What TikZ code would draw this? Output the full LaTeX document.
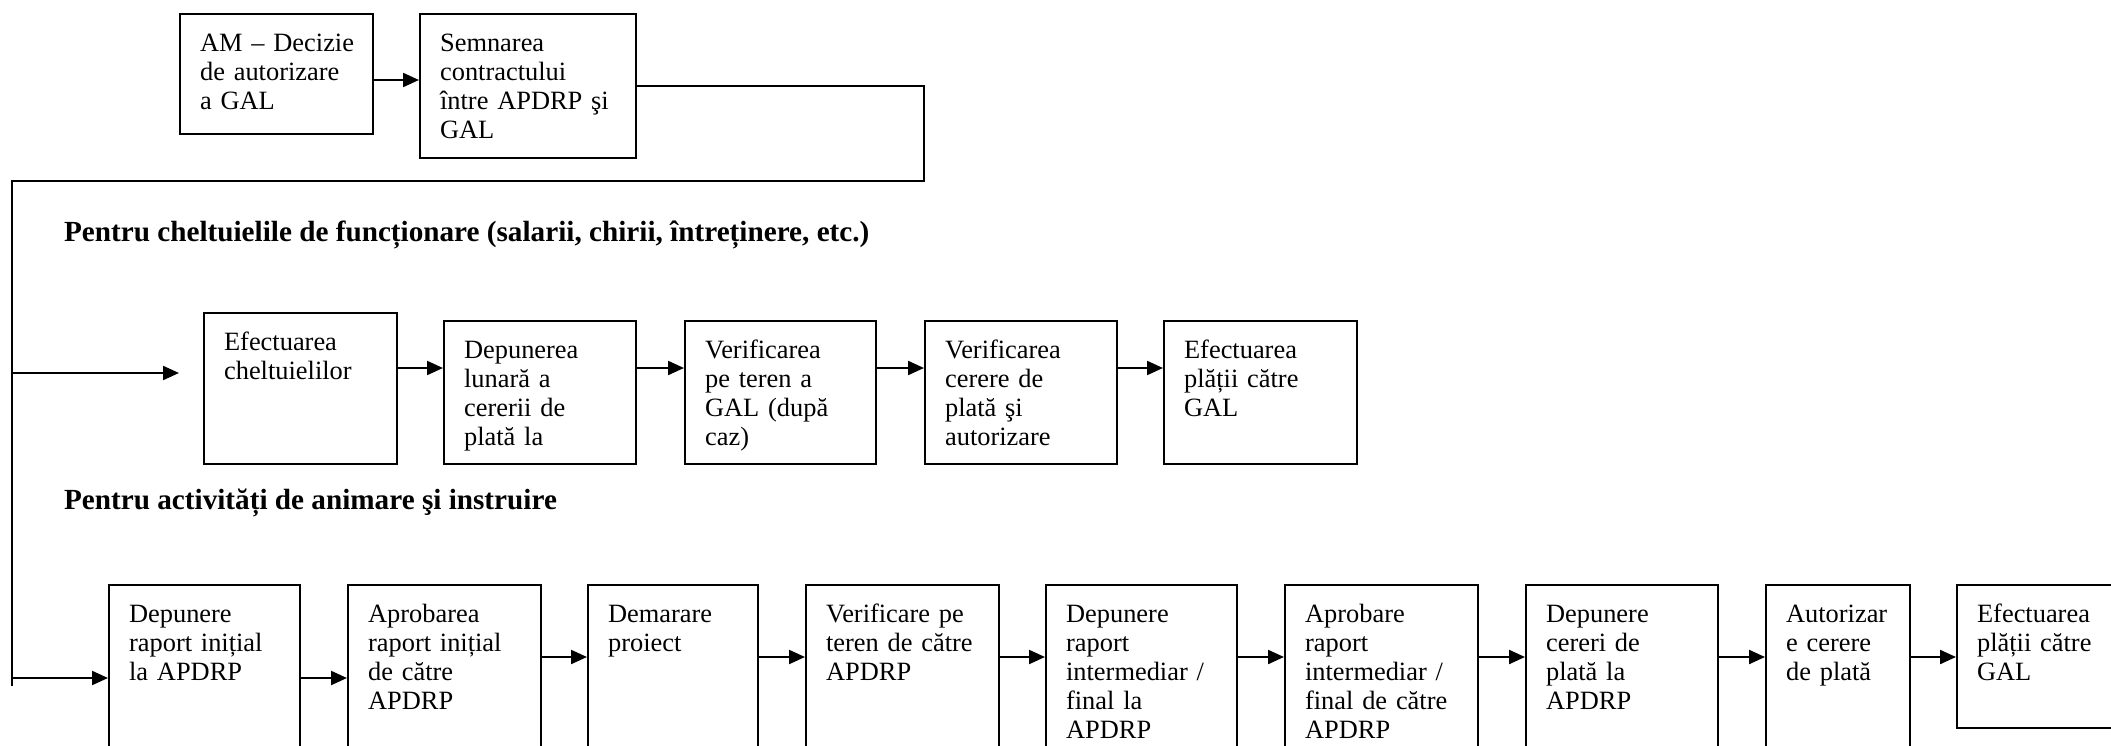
\documentclass[tikz,border=0pt]{standalone}
\usepackage{fontspec}
\setmainfont{Liberation Serif}
\usetikzlibrary{arrows.meta}
\hyphenpenalty=10000
\exhyphenpenalty=10000

\tikzset{every picture/.style={line width=1.1pt}}
\tikzset{
  stepbox/.style={draw, anchor=north west, align=left, inner xsep=10pt, inner ysep=0pt,
    text height=18.5pt, font=\fontsize{13.2}{14.6}\selectfont},
  arr/.style={-{Triangle[length=8pt,width=7pt]}},
  rowtitle/.style={anchor=base west, inner sep=0pt, font=\fontsize{14.6}{16}\selectfont\bfseries}
}

\begin{document}
\begin{tikzpicture}[x=0.5pt,y=0.5pt,yscale=-1,xscale=1]
\useasboundingbox (0,0) rectangle (2111,745);
\clip (0,0) rectangle (2111,745);

%Shape: Rectangle [top row]
\node [stepbox, text width=76.5pt, text depth=41.5pt] (am) at (179,13) {AM~--~Decizie\\de autorizare\\a GAL};
\node [stepbox, text width=88pt, text depth=53.5pt] (sem) at (419,13) {Semnarea\\contractului\\între APDRP şi\\GAL};

% Text Node
\node [rowtitle] (t1) at (63,241) {Pentru cheltuielile de funcționare (salarii, chirii, întreținere, etc.)};

%Shape: Rectangle [operating costs]
\node [stepbox, text width=76.5pt, text depth=57pt] (ef) at (203,312) {Efectuarea\\cheltuielilor};
\node [stepbox, text width=76pt, text depth=53pt] (dep) at (443,320) {Depunerea\\lunară a\\cererii de\\plată la};
\node [stepbox, text width=75.5pt, text depth=53pt] (ver) at (684,320) {Verificarea\\pe teren a\\GAL (după\\caz)};
\node [stepbox, text width=76pt, text depth=53pt] (vcp) at (924,320) {Verificarea\\cerere de\\plată şi\\autorizare};
\node [stepbox, text width=76.5pt, text depth=53pt] (efp) at (1163,320) {Efectuarea\\plății către\\GAL};

% Text Node
\node [rowtitle] (t2) at (63,509) {Pentru activități de animare şi instruire};

%Shape: Rectangle [animation and training]
\node [stepbox, text width=75.5pt, text depth=89.5pt] (d1) at (108,584) {Depunere\\raport inițial\\la APDRP};
\node [stepbox, text width=76.5pt, text depth=89.5pt] (d2) at (347,584) {Aprobarea\\raport inițial\\de către\\APDRP};
\node [stepbox, text width=65pt, text depth=89.5pt] (d3) at (587,584) {Demarare\\proiect};
\node [stepbox, text width=76.5pt, text depth=89.5pt] (d4) at (805,584) {Verificare pe\\teren de către\\APDRP};
\node [stepbox, text width=75.5pt, text depth=89.5pt] (d5) at (1045,584) {Depunere\\raport\\intermediar /\\final la\\APDRP};
\node [stepbox, text width=76.5pt, text depth=89.5pt] (d6) at (1284,584) {Aprobare\\raport\\intermediar /\\final de către\\APDRP};
\node [stepbox, text width=76pt, text depth=89.5pt] (d7) at (1525,584) {Depunere\\cereri de\\plată la\\APDRP};
\node [stepbox, text width=52pt, text depth=89.5pt] (d8) at (1765,584) {Autorizar\\e cerere\\de plată};
\node [stepbox, text width=80pt, text depth=53pt] (d9) at (1956,584) {Efectuarea\\plății către\\GAL};

%Straight Lines [connector and rows]
\coordinate (r1) at (0,80);
\coordinate (c1) at (924,181);
\coordinate (c2) at (12,181);
\coordinate (c3) at (12,686);
\coordinate (in2) at (12,373);
\coordinate (tip2) at (179,373);
\coordinate (r2) at (0,368);
\coordinate (in3) at (12,678);
\coordinate (r3) at (0,657);

\draw [arr] (am.east |- r1) -- (sem.west |- r1);
\draw (sem.east) -| (c1) -- (c2) -- (c3);

\draw [arr] (in2) -- (tip2);
\draw [arr] (ef.east |- r2) -- (dep.west |- r2);
\draw [arr] (dep.east |- r2) -- (ver.west |- r2);
\draw [arr] (ver.east |- r2) -- (vcp.west |- r2);
\draw [arr] (vcp.east |- r2) -- (efp.west |- r2);

\draw [arr] (in3) -- (d1.west |- in3);
\draw [arr] (d1.east |- in3) -- (d2.west |- in3);
\draw [arr] (d2.east |- r3) -- (d3.west |- r3);
\draw [arr] (d3.east |- r3) -- (d4.west |- r3);
\draw [arr] (d4.east |- r3) -- (d5.west |- r3);
\draw [arr] (d5.east |- r3) -- (d6.west |- r3);
\draw [arr] (d6.east |- r3) -- (d7.west |- r3);
\draw [arr] (d7.east |- r3) -- (d8.west |- r3);
\draw [arr] (d8.east |- r3) -- (d9.west |- r3);

\end{tikzpicture}
\end{document}
